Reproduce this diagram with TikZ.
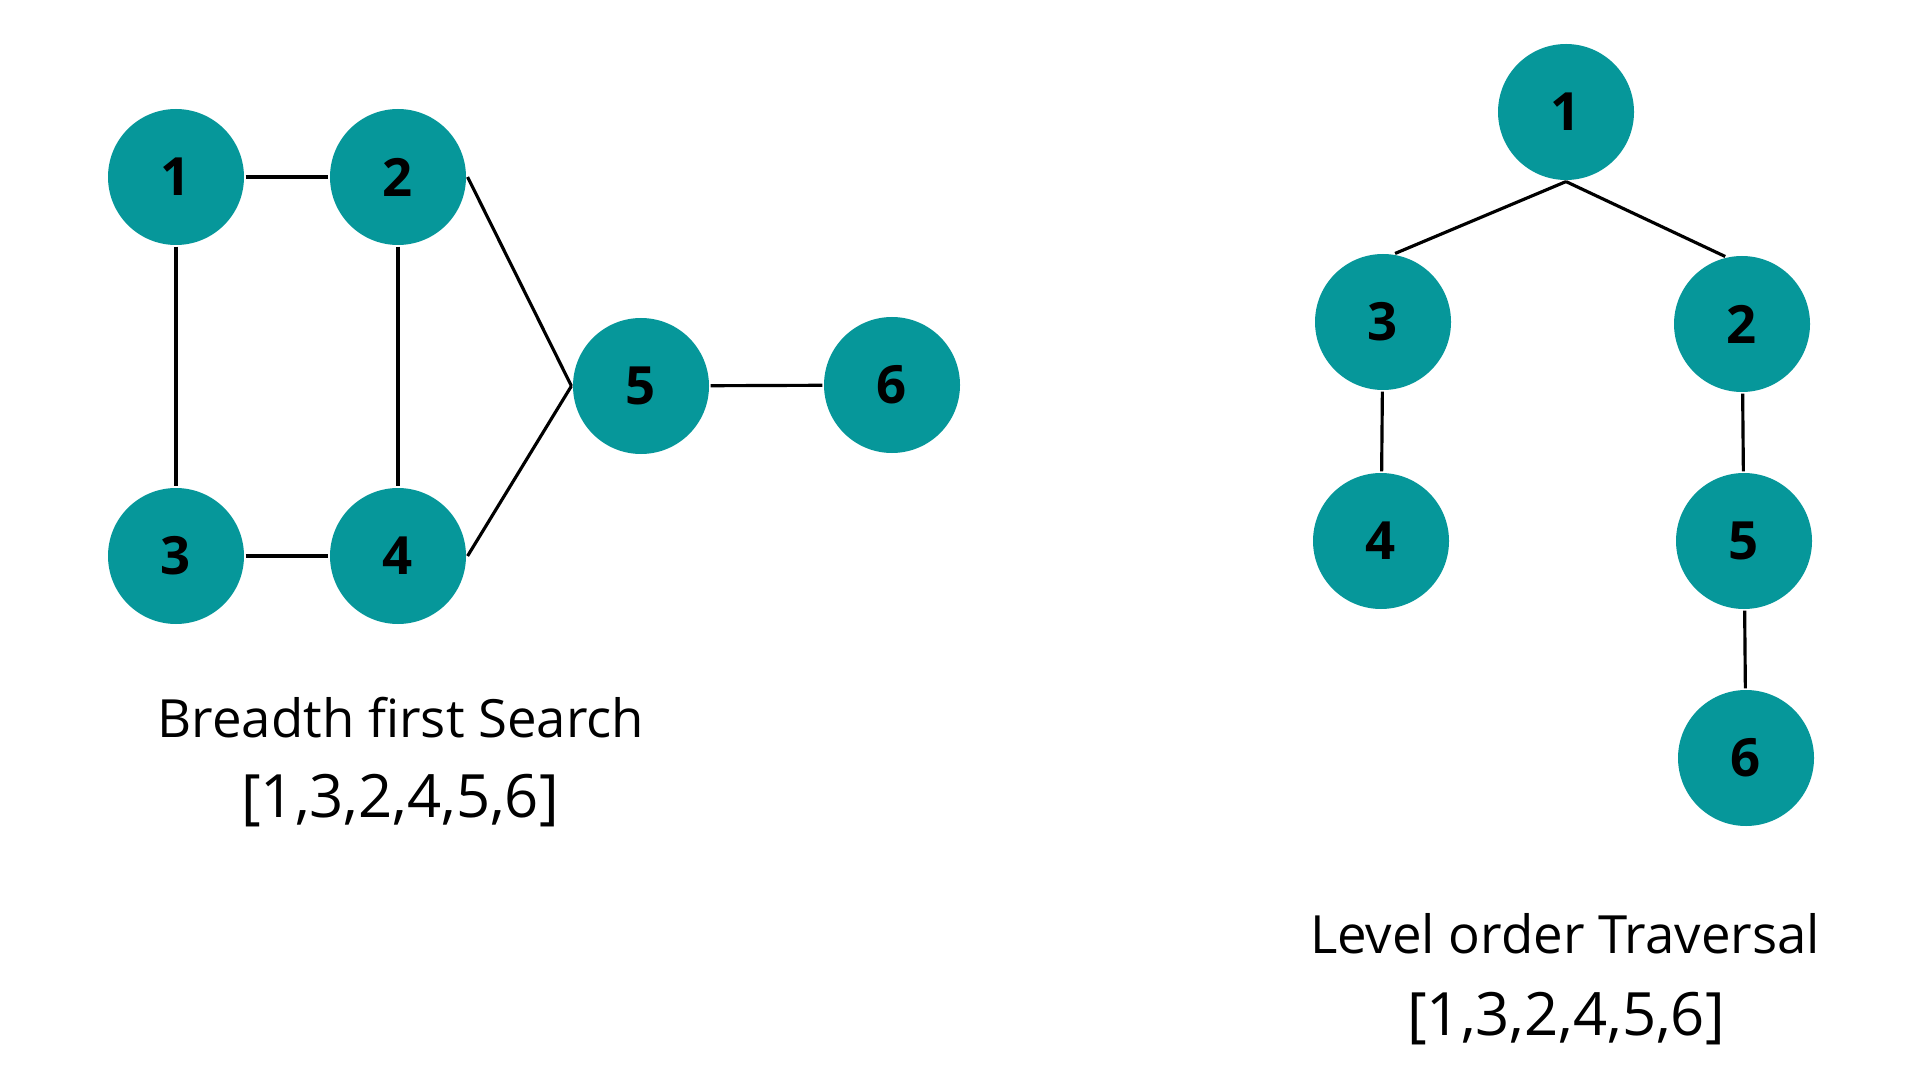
\documentclass[tikz,border=0pt]{standalone}
\usepackage{fontspec}
\setmainfont{Open Sans}
\usepackage{tikz}
\definecolor{tealnode}{RGB}{6,151,154}

\begin{document}
\begin{tikzpicture}[line width=0.9pt,
    vert/.style={circle,fill=tealnode,inner sep=0pt,minimum size=1.36cm,
      font=\bfseries\fontsize{15pt}{18pt}\selectfont},
    caption/.style={anchor=base,font=\fontsize{15pt}{18pt}\selectfont},
    order/.style={anchor=base,font=\fontsize{17pt}{20pt}\selectfont}]
         \useasboundingbox (0,0) rectangle (19.2,-10.8);

         % graph
         \node [vert] (g1) at (1.76,-1.77) {1};
         \node [vert] (g2) at (3.98,-1.77) {2};
         \node [vert] (g3) at (1.76,-5.56) {3};
         \node [vert] (g4) at (3.98,-5.56) {4};
         \node [vert] (g5) at (6.41,-3.86) {5};
         \node [vert] (g6) at (8.92,-3.85) {6};
         \draw (g1)--(g2);
         \draw (g1)--(g3);
         \draw (g2)--(g4);
         \draw (g3)--(g4);
         \draw (g2.east)--(g5.west);
         \draw (g4.east)--(g5.west);
         \draw (g5)--(g6);
         \node [caption] (bfs) at (4.01,-7.37) {Breadth first Search};
         \node [order] (bfslist) at (4.00,-8.17) {[1,3,2,4,5,6]};

         % tree
         \node [vert] (t1) at (15.66,-1.12) {1};
         \node [vert] (t3) at (13.83,-3.22) {3};
         \node [vert] (t2) at (17.42,-3.24) {2};
         \node [vert] (t4) at (13.81,-5.41) {4};
         \node [vert] (t5) at (17.44,-5.41) {5};
         \node [vert] (t6) at (17.46,-7.58) {6};
         \draw (t1.south)--(t3.80);
         \draw (t1.south)--(t2.104);
         \draw (t3)--(t4);
         \draw (t2)--(t5);
         \draw (t5)--(t6);
         \node [caption] (lot) at (15.65,-9.53) {Level order Traversal};
         \node [order] (lotlist) at (15.66,-10.35) {[1,3,2,4,5,6]};
       \end{tikzpicture}
\end{document}
